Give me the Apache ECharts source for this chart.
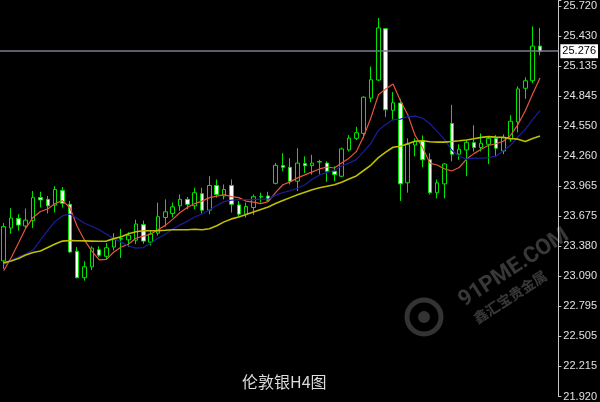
<!DOCTYPE html>
<html>
<head>
<meta charset="utf-8">
<script src="https://cdn.jsdelivr.net/npm/echarts@6/dist/echarts.min.js"></script>
<style>
html,body{margin:0;padding:0;background:#000;}
#c{width:600px;height:402px;}
</style>
</head>
<body>
<div id="c"></div>
<script>
// ---- data ----
const titleText = '伦敦银H4图';
const lastPrice = 25.276;
const yTickLabels = ['21.920','22.215','22.505','22.795','23.090','23.380','23.675','23.965','24.260','24.550','24.845','25.135','25.430','25.720'];
const yMin = 21.92;
const yTop = 25.72;
const yMax = 25.7777;

const opens = [23.239,23.559,23.653,23.579,23.631,23.855,23.838,23.781,23.925,23.790,
  23.333,23.076,23.182,23.348,23.284,23.374,23.451,23.444,23.441,23.592,
  23.422,23.509,23.662,23.701,23.775,23.838,23.775,23.893,23.733,23.973,
  23.871,23.973,23.784,23.694,23.759,23.861,23.871,23.994,24.167,24.150,
  24.015,24.186,24.167,24.201,24.191,24.111,24.063,24.319,24.432,24.480,
  24.823,24.999,25.499,24.704,24.775,23.999,24.367,24.408,24.223,23.903,
  23.989,24.576,24.278,24.319,24.390,24.342,24.374,24.432,24.309,24.425,
  24.592,24.919,24.992,25.329];
const highs = [23.608,23.752,23.694,23.749,23.919,23.912,23.871,23.967,23.958,23.823,
  23.374,23.236,23.381,23.381,23.412,23.509,23.550,23.518,23.640,23.631,
  23.540,23.807,23.838,23.807,23.886,23.861,23.951,23.951,24.063,24.031,
  23.983,24.031,23.823,23.807,23.886,23.903,23.912,24.191,24.287,24.239,
  24.335,24.256,24.271,24.223,24.208,24.159,24.342,24.463,24.544,24.842,
  25.131,25.602,25.506,24.881,24.816,24.432,24.432,24.460,24.287,24.031,
  24.191,24.758,24.374,24.415,24.559,24.480,24.448,24.463,24.470,24.656,
  24.938,25.025,25.521,25.506];
const lows = [23.162,23.502,23.534,23.550,23.559,23.759,23.701,23.710,23.759,23.316,
  23.069,23.047,23.150,23.278,23.252,23.342,23.268,23.374,23.403,23.406,
  23.390,23.486,23.573,23.662,23.727,23.742,23.742,23.701,23.694,23.855,
  23.838,23.710,23.669,23.662,23.688,23.807,23.816,23.983,24.111,23.983,
  23.919,24.095,24.079,24.079,24.008,24.015,24.054,24.304,24.415,24.432,
  24.784,24.989,24.640,24.608,23.823,23.903,24.256,24.150,23.886,23.848,
  23.848,24.208,24.223,24.063,24.304,24.304,24.182,24.249,24.278,24.400,
  24.489,24.816,24.970,25.239];
const closes = [23.573,23.656,23.588,23.636,23.855,23.833,23.775,23.934,23.800,23.326,
  23.076,23.182,23.364,23.294,23.367,23.454,23.458,23.489,23.598,23.432,
  23.502,23.669,23.717,23.765,23.838,23.790,23.903,23.733,23.973,23.886,
  23.934,23.790,23.694,23.768,23.864,23.867,23.829,24.169,24.150,24.015,
  24.191,24.165,24.191,24.206,24.111,24.079,24.329,24.434,24.486,24.832,
  25.002,25.506,24.710,24.778,23.989,24.374,24.400,24.223,23.903,23.999,
  24.182,24.278,24.326,24.393,24.342,24.384,24.432,24.335,24.438,24.598,
  24.912,24.992,25.329,25.276];

const maRed = [23.143,23.268,23.412,23.557,23.662,23.720,23.744,23.797,23.826,23.759,
  23.576,23.441,23.335,23.249,23.254,23.326,23.374,23.403,23.460,23.480,
  23.499,23.542,23.585,23.643,23.710,23.759,23.797,23.821,23.855,23.869,
  23.884,23.864,23.855,23.821,23.811,23.797,23.816,23.903,23.980,24.008,
  24.047,24.076,24.105,24.134,24.153,24.143,24.191,24.239,24.302,24.451,
  24.634,24.855,24.912,24.960,24.797,24.662,24.460,24.345,24.191,24.172,
  24.134,24.114,24.148,24.230,24.283,24.326,24.364,24.379,24.403,24.460,
  24.566,24.701,24.864,25.018];
const maBlue = [23.201,23.244,23.278,23.307,23.345,23.441,23.537,23.624,23.677,23.696,
  23.653,23.605,23.576,23.542,23.499,23.456,23.422,23.384,23.364,23.369,
  23.412,23.460,23.499,23.547,23.590,23.624,23.667,23.696,23.734,23.778,
  23.816,23.831,23.835,23.835,23.835,23.840,23.840,23.879,23.903,23.922,
  23.946,23.980,24.033,24.076,24.100,24.119,24.162,24.191,24.225,24.302,
  24.384,24.509,24.566,24.614,24.619,24.643,24.648,24.629,24.576,24.499,
  24.422,24.316,24.258,24.230,24.239,24.239,24.244,24.258,24.311,24.364,
  24.446,24.518,24.614,24.701];
const maYellow = [23.220,23.239,23.263,23.297,23.321,23.335,23.369,23.403,23.432,23.438,
  23.436,23.434,23.432,23.430,23.432,23.456,23.475,23.504,23.523,23.532,
  23.532,23.534,23.537,23.542,23.542,23.542,23.547,23.542,23.552,23.581,
  23.619,23.648,23.667,23.691,23.715,23.739,23.763,23.797,23.826,23.855,
  23.884,23.908,23.932,23.951,23.965,23.980,24.004,24.037,24.066,24.119,
  24.172,24.244,24.297,24.345,24.355,24.379,24.403,24.408,24.398,24.395,
  24.395,24.401,24.408,24.416,24.428,24.441,24.448,24.444,24.441,24.430,
  24.424,24.400,24.430,24.455];

// categories: one per bar, plus two empty slots of chart shift on the right
const barCount = opens.length;
const categories = [];
for (let i = 0; i < barCount; i++) categories.push('H4-' + (i + 1));
categories.push('', ' ');

// ---- build ----
const yInterval = (yTop - yMin) / (yTickLabels.length - 1);
const candleData = opens.map((o, i) => [o, closes[i], lows[i], highs[i]]);

const chart = echarts.init(document.getElementById('c'), null, {renderer: 'canvas'});
chart.setOption({
  backgroundColor: '#000000',
  animation: false,
  title: {
    text: titleText,
    left: 237,
    top: 369,
    textStyle: {color: '#dcdcdc', fontSize: 16, fontWeight: 'normal', fontFamily: '"Noto Sans CJK SC", sans-serif'}
  },
  grid: {left: -2, right: 40, top: 0, bottom: 1, containLabel: false},
  xAxis: {
    type: 'category',
    data: categories,
    boundaryGap: true,
    show: false
  },
  yAxis: {
    type: 'value',
    position: 'right',
    min: yMin,
    max: yMax,
    interval: yInterval,
    axisLine: {show: true, onZero: false, lineStyle: {color: '#c8c8c8', width: 1}},
    axisTick: {show: true, length: 3, lineStyle: {color: '#c8c8c8'}},
    splitLine: {show: false},
    axisLabel: {
      color: '#e0e0e0',
      fontSize: 11,
      fontFamily: '"Liberation Sans", Arial, sans-serif',
      margin: 5,
      formatter: function (v) {
        const i = Math.round((v - yMin) / yInterval);
        if (Math.abs(v - (yMin + i * yInterval)) > yInterval * 0.05) return '';
        return yTickLabels[i] || '';
      }
    }
  },
  series: [
    {
      type: 'candlestick',
      data: candleData,
      barWidth: 4,
      itemStyle: {
        color: '#000000',
        color0: '#ffffff',
        borderColor: '#00e400',
        borderColor0: '#00e400',
        borderColorDoji: '#00e400',
        borderWidth: 1
      },
      markLine: {
        silent: true,
        symbol: 'none',
        animation: false,
        lineStyle: {color: '#7a8088', width: 1.5, type: 'solid'},
        label: {
          show: true,
          position: 'end',
          distance: 2,
          formatter: function () { return lastPrice.toFixed(3); },
          color: '#000000',
          backgroundColor: '#ffffff',
          padding: [2, 2, 1, 2],
          fontSize: 11,
          fontFamily: '"Liberation Sans", Arial, sans-serif'
        },
        data: [{yAxis: lastPrice}]
      },
      z: 2
    },
    {
      type: 'line', data: maRed, symbol: 'none', showSymbol: false,
      lineStyle: {color: '#e8553f', width: 1.2}, z: 3
    },
    {
      type: 'line', data: maBlue, symbol: 'none', showSymbol: false,
      lineStyle: {color: '#1c1c9c', width: 1.2}, z: 3
    },
    {
      type: 'line', data: maYellow, symbol: 'none', showSymbol: false,
      lineStyle: {color: '#bfbf00', width: 1.6}, z: 3
    }
  ],
  graphic: [
    {
      type: 'circle', silent: true, z: 10,
      shape: {cx: 424, cy: 317, r: 17},
      style: {fill: 'none', stroke: 'rgba(255,255,255,0.2)', lineWidth: 5}
    },
    {
      type: 'circle', silent: true, z: 10,
      shape: {cx: 424, cy: 317, r: 6},
      style: {fill: 'rgba(255,255,255,0.2)'}
    },
    {
      type: 'text', silent: true, z: 10,
      x: 514, y: 268, rotation: 33 * Math.PI / 180,
      style: {
        text: '91PME.COM', fill: 'rgba(255,255,255,0.22)',
        font: 'bold 22px Roboto, sans-serif',
        align: 'center', verticalAlign: 'middle',
        textAlign: 'center', textVerticalAlign: 'middle'
      }
    },
    {
      type: 'text', silent: true, z: 10,
      x: 510, y: 297, rotation: 33 * Math.PI / 180,
      style: {
        text: '鑫汇宝贵金属', fill: 'rgba(255,255,255,0.22)',
        font: 'bold 14px "Noto Sans CJK SC", sans-serif',
        align: 'center', verticalAlign: 'middle',
        textAlign: 'center', textVerticalAlign: 'middle'
      }
    }
  ]
});
</script>
</body>
</html>
